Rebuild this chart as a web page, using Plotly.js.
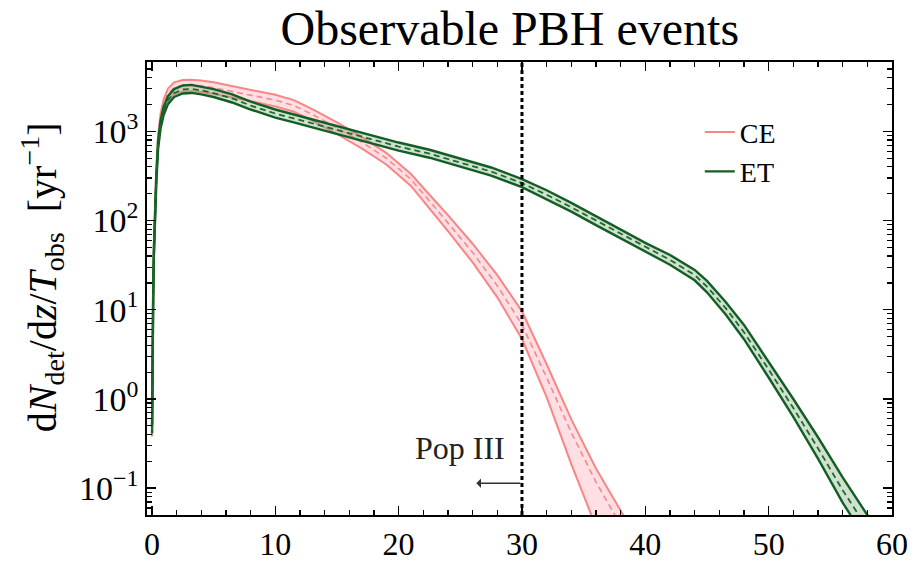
<!DOCTYPE html>
<html>
<head>
<meta charset="utf-8">
<script src="https://cdn.plot.ly/plotly-3.0.1.min.js"></script>
<style>html,body{margin:0;padding:0;background:#fff}#plot{width:922px;height:561px}</style>
</head>
<body>
<div id="plot"></div>
<script>
// ---- data ----
var ceZ   = [0.01,0.03,0.06,0.1,0.16,0.24,0.35,0.5,0.7,0.95,1.3,1.8,2.5,3.2,4,5,6.5,8,10,11.5,13,15,17,19,21,22.5,24,26,28,30,32,34,36,38,40];
var ceMid = [0.45,1.6,5.6,14,45,112,316,794,1380,2000,2630,3090,3270,3310,3240,3090,2820,2570,2240,1950,1550,1100,760,500,290,166,95,44,18.6,6.8,1.74,0.42,0.117,0.04,0.0126];
var ceHi  = [0.52,1.84,6.4,16,52,129,363,912,1585,2290,3020,3550,3760,3800,3720,3550,3240,2950,2570,2240,1780,1260,870,575,333,195,115,55,24.5,9.6,2.45,0.59,0.166,0.056,0.0178];
var ceLo  = [0.38,1.36,4.8,11.9,38,95,269,676,1175,1700,2240,2630,2780,2820,2760,2630,2400,2190,1900,1660,1320,935,646,426,245,138,76,34,13.8,4.7,1.05,0.186,0.037,0.0100,0.0025];

var etZ   = [0.01,0.03,0.06,0.1,0.16,0.24,0.35,0.5,0.7,0.95,1.3,1.8,2.5,3.2,4,5,6.5,8,10,11.5,13,15,17,20,22.5,25,27.5,30,32,34,36,38,40,42,44,45,46.5,48,50,52,54,56,58,60];
var etMid = [0.45,1.6,5.6,14,45,100,282,708,1200,1700,2240,2690,2950,2990,2880,2690,2340,1950,1585,1400,1230,1020,870,676,562,447,355,263,195,141,100,70.8,50.1,36.3,24.5,18.2,10.5,5.6,2.14,0.79,0.28,0.095,0.0355,0.0126];
var etHi  = [0.5,1.77,6.2,15.5,50,111,313,785,1330,1885,2480,2980,3270,3320,3190,2980,2600,2160,1760,1550,1365,1130,965,750,623,496,394,292,219,158,112,79.4,56.2,41.2,28,21.1,12.3,6.76,2.63,1.0,0.372,0.132,0.05,0.018];
var etLo  = [0.41,1.44,5.05,12.6,40.6,90,254,638,1080,1530,2020,2430,2660,2700,2600,2430,2110,1760,1430,1260,1110,920,785,610,507,403,320,237,174,126,89,63.1,44.7,32,21.4,15.7,8.9,4.68,1.74,0.63,0.214,0.069,0.025,0.0087];

var xTickVals = [0,10,20,30,40,50,60];
var xTickText = ['0','10','20','30','40','50','60'];
var xMinorVals = [2,4,6,8,12,14,16,18,22,24,26,28,32,34,36,38,42,44,46,48,52,54,56,58];
var yTickVals = [0.1,1,10,100,1000];
var yTickText = ['10<sup>−1</sup>','10<sup>0</sup>','10<sup>1</sup>','10<sup>2</sup>','10<sup>3</sup>'];
var yMinorMult = [2,3,4,5,6,7,8,9];
var popIIIz = 30;
var yTitle = 'd<i>N</i><sub>det</sub>/d<i>z</i>/<i>T</i><sub>obs</sub>  [yr<sup>−1</sup>]';

// ---- styles ----
var ceLine = '#f98585', ceFill = 'rgba(255,170,185,0.38)', ceDash = '#f48a8a';
var etLine = '#135e24', etFill = 'rgba(120,170,120,0.35)', etDash = '#1d6a2e';
var serif = '"Liberation Serif", "Times New Roman", serif';

var xRange = [-0.4, 60];
var yRange = [Math.log10(0.05), Math.log10(6000)];

// merged tick lists: majors labelled, minors with a blank (non-empty) label
var BLANK = '\u00a0';
function merge(majV, majT, minV){
  var pairs = majV.map(function(v,i){return [v, majT[i]];}).concat(minV.map(function(v){return [v, BLANK];}));
  pairs.sort(function(a,b){return a[0]-b[0];});
  return {v: pairs.map(function(p){return p[0];}), t: pairs.map(function(p){return p[1];})};
}
var yMinor = [];
[0.01,0.1,1,10,100,1000].forEach(function(d){ yMinorMult.forEach(function(k){ yMinor.push(k*d); }); });
var xAll = merge(xTickVals, xTickText, xMinorVals);
var yAll = merge(yTickVals, yTickText, yMinor);

var traces = [
  {x: ceZ, y: ceLo, mode:'lines', line:{width:0}, showlegend:false, hoverinfo:'skip'},
  {x: ceZ, y: ceHi, mode:'lines', line:{width:0}, fill:'tonexty', fillcolor:ceFill, showlegend:false, hoverinfo:'skip'},
  {x: ceZ, y: ceLo, mode:'lines', line:{color:ceLine, width:2}, showlegend:false},
  {x: ceZ, y: ceHi, mode:'lines', line:{color:ceLine, width:2}, name:'CE', legendgroup:'ce'},
  {x: ceZ, y: ceMid, mode:'lines', line:{color:ceDash, width:1.6, dash:'6px,4px'}, showlegend:false},
  {x: etZ, y: etLo, mode:'lines', line:{width:0}, showlegend:false, hoverinfo:'skip'},
  {x: etZ, y: etHi, mode:'lines', line:{width:0}, fill:'tonexty', fillcolor:etFill, showlegend:false, hoverinfo:'skip'},
  {x: etZ, y: etLo, mode:'lines', line:{color:etLine, width:2.4}, showlegend:false},
  {x: etZ, y: etHi, mode:'lines', line:{color:etLine, width:2.4}, name:'ET', legendgroup:'et'},
  {x: etZ, y: etMid, mode:'lines', line:{color:etDash, width:1.8, dash:'6px,4px'}, showlegend:false},
  {x: [popIIIz], y: [yTickVals[1]], xaxis:'x2', yaxis:'y2', mode:'markers', marker:{opacity:0, size:1}, showlegend:false, hoverinfo:'skip'}
];

var layout = {
  width: 922, height: 561,
  margin: {l:147, r:30, t:62, b:46},
  paper_bgcolor:'#fff', plot_bgcolor:'#fff',
  font: {family: serif, color:'#000', size:24},
  title: {text:'Observable PBH events', font:{family:serif, size:48, color:'#000'},
          xref:'paper', x:0.487, xanchor:'center', yref:'container', y:0.95, yanchor:'middle'},
  xaxis: {
    range:xRange, tickmode:'array', tickvals:xAll.v, ticktext:xAll.t,
    ticks:'inside', ticklen:5, tickwidth:1.2, tickcolor:'#000',
    showline:true, linecolor:'#000', linewidth:1.8, mirror:'allticks',
    showgrid:false, zeroline:false, ticklabelstandoff:0,
    tickfont:{family:serif, size:32}
  },
  yaxis: {
    type:'log', range:yRange,
    tickmode:'array', tickvals:yAll.v, ticktext:yAll.t,
    ticks:'inside', ticklen:5, tickwidth:1.2, tickcolor:'#000',
    showline:true, linecolor:'#000', linewidth:1.8, mirror:'allticks',
    showgrid:false, zeroline:false,
    tickfont:{family:serif, size:34}
  },
  xaxis2: {
    overlaying:'x', anchor:'y2', range:xRange, tickmode:'array', tickvals:xTickVals,
    ticks:'inside', ticklen:9, tickwidth:1.4, tickcolor:'#000', mirror:'ticks',
    showticklabels:false, showgrid:false, zeroline:false, showline:false
  },
  yaxis2: {
    overlaying:'y', anchor:'x2', type:'log', range:yRange, tickmode:'array', tickvals:yTickVals,
    ticks:'inside', ticklen:9, tickwidth:1.4, tickcolor:'#000', mirror:'ticks',
    showticklabels:false, showgrid:false, zeroline:false, showline:false
  },
  legend: {x:0.742, y:0.9, xanchor:'left', yanchor:'top', bgcolor:'rgba(0,0,0,0)',
           font:{family:serif, size:28}, traceorder:'grouped', tracegroupgap:0, itemwidth:30},
  shapes: [
    {type:'line', xref:'x', yref:'paper', x0:popIIIz, x1:popIIIz, y0:0, y1:1,
     line:{color:'#000', width:3, dash:'4px,3px'}, layer:'above'}
  ],
  annotations: [
    {text:yTitle, xref:'paper', yref:'paper', x:-0.141, y:0.525, textangle:-90,
     xanchor:'center', yanchor:'middle', showarrow:false, font:{family:serif, size:40, color:'#000'}},
    {text:'Pop III', xref:'x', yref:'y', x:25.0, y:-0.55, showarrow:false,
     font:{family:serif, size:32, color:'#222'}},
    {text:'', xref:'x', yref:'y', axref:'x', ayref:'y', x:26.3, y:-0.945, ax:popIIIz, ay:-0.945,
     showarrow:true, arrowhead:1, arrowsize:1.2, arrowwidth:1.3, arrowcolor:'#333'}
  ],
  showlegend:true
};

Plotly.newPlot('plot', traces, layout, {displayModeBar:false, staticPlot:true});
</script>
</body>
</html>
